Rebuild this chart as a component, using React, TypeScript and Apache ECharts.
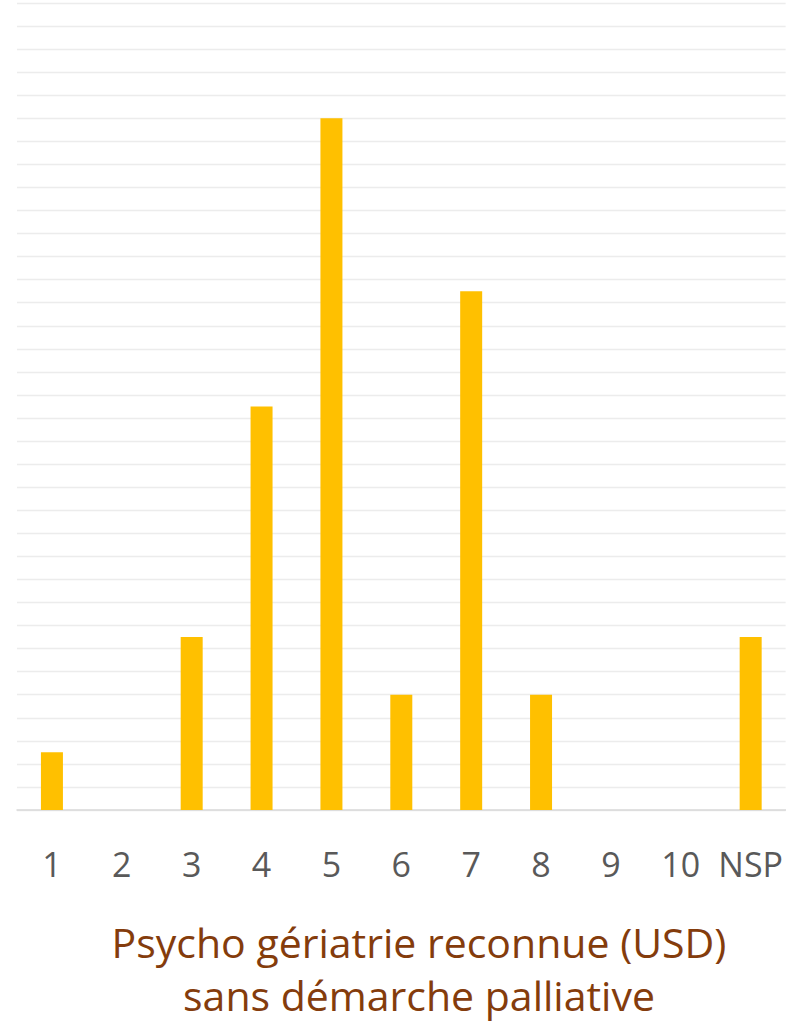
import React, { useEffect, useRef } from "react";
import * as echarts from "echarts";

const categories = ["1", "2", "3", "4", "5", "6", "7", "8", "9", "10", "NSP"];
const counts = [1, 0, 3, 7, 12, 2, 9, 2, 0, 0, 3];
const titleLines = ["Psycho gériatrie reconnue (USD)", "sans démarche palliative"];

export default function App() {
  const ref = useRef<HTMLDivElement>(null);
  useEffect(() => {
    document.body.style.margin = "0";
    const chart = echarts.init(ref.current!, null, { renderer: "svg" });
    const titleStyle = {
      fontFamily: "Open Sans",
      fontSize: 41,
      fill: "#843c0c",
      textAlign: "center",
      textVerticalAlign: "middle",
    };
    chart.setOption({
      animation: false,
      backgroundColor: "#ffffff",
      graphic: [
        {
          type: "text",
          x: 419,
          y: 942,
          style: { ...titleStyle, text: titleLines[0] },
        },
        {
          type: "text",
          x: 419,
          y: 995,
          style: { ...titleStyle, text: titleLines[1] },
        },
      ],
      grid: { left: 17, right: 0, top: 3, bottom: 213 },
      xAxis: {
        type: "category",
        data: categories,
        axisLine: { show: true, lineStyle: { color: "#d9d9d9", width: 1.5 } },
        axisTick: { show: false },
        axisLabel: {
          fontFamily: "Open Sans",
          fontSize: 34,
          color: "#595959",
          margin: 37,
          interval: 0,
        },
      },
      yAxis: {
        type: "value",
        min: 0,
        max: 14,
        interval: 0.4,
        axisLabel: { show: false },
        axisLine: { show: false },
        axisTick: { show: false },
        splitLine: { lineStyle: { color: "#ececec", width: 1.3 } },
      },
      series: [
        {
          type: "bar",
          data: counts,
          barWidth: 22,
          itemStyle: { color: "#ffc000" },
        },
      ],
    });
    return () => chart.dispose();
  }, []);
  return <div ref={ref} style={{ width: 786, height: 1023 }} />;
}
